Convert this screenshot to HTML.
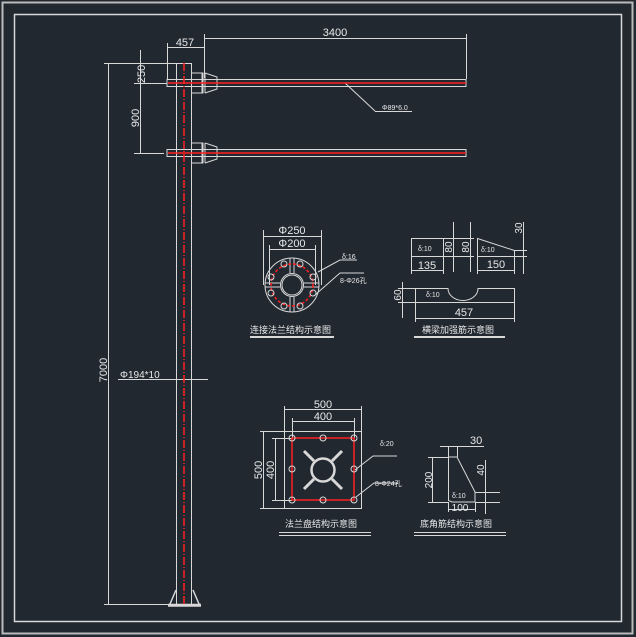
<!DOCTYPE html>
<html><head><style>body{margin:0;background:#212830}svg{display:block}text{font-family:"Liberation Sans","Noto Sans CJK SC",sans-serif;fill:#e8e8e8}</style></head><body>
<svg width="636" height="637" viewBox="0 0 636 637" xmlns="http://www.w3.org/2000/svg">
<rect width="636" height="637" fill="#212830"/>
<g fill="none" stroke="#d8d8d8" stroke-width="1">
<rect x="2.5" y="2.5" width="630" height="631" stroke="#bbb" stroke-width="2"/>
<rect x="14.5" y="14.5" width="607" height="607" stroke-width="1.5"/>
<!-- pole -->
<line x1="176.5" y1="63" x2="176.5" y2="604"/><line x1="191.5" y1="63" x2="191.5" y2="604"/>
<line x1="176" y1="63.5" x2="192" y2="63.5"/>
<line x1="104" y1="63.5" x2="176" y2="63.5"/>
<line x1="104" y1="604.5" x2="168" y2="604.5"/>
<line x1="108.5" y1="63" x2="108.5" y2="604"/>
<path d="M168 606h33M168 604.5h33M170 604l6-14M199 604l-6-14" stroke-width="1.5"/>
<!-- arms -->
<rect x="167" y="79.5" width="299" height="7"/>
<rect x="167" y="149.5" width="299" height="7"/>
<path d="M192 73h11v20h-11M202 73v20M205 73v20M205 73l12 4v12l-12 4"/>
<path d="M192 143h11v20h-11M202 143v20M205 143v20M205 143l12 4v12l-12 4"/>
<!-- dims top -->
<line x1="204" y1="38.5" x2="466" y2="38.5"/><line x1="204.5" y1="34" x2="204.5" y2="78"/><line x1="466.5" y1="34" x2="466.5" y2="79"/>
<line x1="167" y1="47.5" x2="204" y2="47.5"/><line x1="167.5" y1="43" x2="167.5" y2="79"/>
<line x1="140.5" y1="50" x2="140.5" y2="98"/><line x1="140.5" y1="86" x2="140.5" y2="153"/>
<line x1="134" y1="83.5" x2="167" y2="83.5"/><line x1="134" y1="153.5" x2="164" y2="153.5"/>
<line x1="345" y1="83" x2="375" y2="111"/><line x1="375" y1="111.5" x2="412" y2="111.5"/>
<line x1="118" y1="379.5" x2="208" y2="379.5"/>
<!-- connection flange -->
<circle cx="292" cy="285" r="27"/>
<circle cx="292" cy="285" r="10"/><circle cx="292" cy="285" r="11.5"/>
<path d="M290 258v15M294 258v15M290 297v15M294 297v15M265 283h15M265 287h15M304 283h15M304 287h15"/>
<line x1="263.5" y1="230" x2="263.5" y2="285"/><line x1="321.5" y1="230" x2="321.5" y2="285"/>
<line x1="263" y1="236.5" x2="321" y2="236.5"/>
<line x1="269.5" y1="245" x2="269.5" y2="285"/><line x1="315.5" y1="245" x2="315.5" y2="285"/>
<line x1="269" y1="249.5" x2="315" y2="249.5"/>
<path d="M318 272l22-12h17M315 295l25-22h24"/>
<line x1="250" y1="337" x2="334" y2="337" stroke-width="2"/>
<!-- ribs -->
<rect x="411.5" y="238.5" width="32" height="18"/>
<path d="M477.5 238.5L514.5 250.5V256.5H477.5Z"/><path d="M514 250.5h13M514 256.5h13"/>
<path d="M411.5 256v18M443.5 256v18M411 270.5h32M477.5 256v18M514.5 256v18M477 270.5h37"/>
<path d="M453.5 222v50M470.5 222v50M444 238.5h30M444 256.5h30M523.5 222v52"/>
<path d="M415.5 288.5H448A15 12 0 0 0 478 288.5H514.5V302.5H415.5Z"/>
<path d="M402.5 282v36M398 288.5h17M398 302.5h17M415.5 302v20M514.5 302v20M415 318.5h100"/>
<line x1="414" y1="337" x2="505" y2="337" stroke-width="2"/>
<!-- base plate -->
<rect x="284.5" y="431.5" width="77" height="77"/>
<circle cx="323" cy="470" r="11.5" stroke-width="2.5"/>
<path d="M314 461l-10-10M332 461l10-10M314 479l-10 10M332 479l10 10" stroke-width="3"/>
<path d="M284.5 406v25M361.5 406v25M284 409.5h77M292.5 418v20M354.5 418v20M292 421.5h62"/>
<path d="M260 431.5h24M260 508.5h24M263.5 431v77M272 438.5h20M272 500.5h20M275.5 438v62"/>
<path d="M355 470l18-14h24M356 497l18-14h24"/>
<path d="M279 532.5h92M279 535.5h92"/>
<!-- corner rib -->
<path d="M448.5 457V500.5L452 502H475V492L457 457H448.5"/>
<path d="M428 457.5h20M428 502.5h20M432.5 457v45M448.5 446v11M457.5 446v11M440 446.5h44M485.5 460v54M475 492.5h25M475 502.5h25M448.5 502v10M475.5 502v10M448 509.5h28"/>
<path d="M414 532.5h92M414 535.5h92"/>
</g>
<g stroke="#ff2020" stroke-width="1.5" fill="none">
<line x1="184" y1="63" x2="184" y2="604" stroke-dasharray="8 2 1 2"/>
<line x1="168" y1="83" x2="466" y2="83"/><line x1="168" y1="153" x2="466" y2="153"/>
<circle cx="292" cy="285" r="21" stroke-dasharray="3 2"/>
<rect x="292" y="438" width="62" height="62"/>
</g>
<g fill="#d8d8d8" stroke="none">
<g fill="none" stroke="#d8d8d8">
<circle cx="284" cy="264" r="3"/><circle cx="300" cy="264" r="3"/><circle cx="313" cy="277" r="3"/><circle cx="313" cy="293" r="3"/><circle cx="300" cy="306" r="3"/><circle cx="284" cy="306" r="3"/><circle cx="271" cy="293" r="3"/><circle cx="271" cy="277" r="3"/>
<circle cx="292" cy="438" r="3"/><circle cx="323" cy="438" r="3"/><circle cx="354" cy="438" r="3"/><circle cx="292" cy="469" r="3"/><circle cx="354" cy="469" r="3"/><circle cx="292" cy="500" r="3"/><circle cx="323" cy="500" r="3"/><circle cx="354" cy="500" r="3"/>
</g>
</g>
<g font-size="11">
<text x="335" y="36" text-anchor="middle">3400</text>
<text x="185" y="46" text-anchor="middle">457</text>
<text transform="translate(145,74) rotate(-90)" text-anchor="middle">250</text>
<text transform="translate(139,118) rotate(-90)" text-anchor="middle">900</text>
<text transform="translate(107,370) rotate(-90)" text-anchor="middle">7000</text>
<text x="120" y="378" font-size="10">Φ194*10</text>
<text x="382" y="110" font-size="7">Φ89*6.0</text>
<text x="292" y="234" text-anchor="middle">Φ250</text>
<text x="292" y="247" text-anchor="middle">Φ200</text>
<text x="342" y="259" font-size="7">δ:16</text>
<text x="340" y="283" font-size="7">8-Φ26孔</text>
<text x="250" y="333" font-size="9">连接法兰结构示意图</text>
<text x="418" y="251" font-size="7">δ:10</text>
<text x="481" y="252" font-size="7">δ:10</text>
<text x="427" y="269" text-anchor="middle">135</text>
<text x="496" y="268" text-anchor="middle">150</text>
<text transform="translate(452,247) rotate(-90)" text-anchor="middle" font-size="10">80</text>
<text transform="translate(469,247) rotate(-90)" text-anchor="middle" font-size="10">80</text>
<text transform="translate(522,228) rotate(-90)" text-anchor="middle" font-size="10">30</text>
<text transform="translate(401,295) rotate(-90)" text-anchor="middle" font-size="10">60</text>
<text x="426" y="297" font-size="7">δ:10</text>
<text x="464" y="316" text-anchor="middle">457</text>
<text x="422" y="333" font-size="9">横梁加强筋示意图</text>
<text x="323" y="408" text-anchor="middle">500</text>
<text x="323" y="420" text-anchor="middle">400</text>
<text transform="translate(262,470) rotate(-90)" text-anchor="middle">500</text>
<text transform="translate(274,470) rotate(-90)" text-anchor="middle">400</text>
<text x="380" y="446" font-size="7">δ:20</text>
<text x="375" y="486" font-size="7">8-Φ24孔</text>
<text x="285" y="527" font-size="9">法兰盘结构示意图</text>
<text x="470" y="444">30</text>
<text transform="translate(432,480) rotate(-90)" text-anchor="middle" font-size="10">200</text>
<text transform="translate(484,470) rotate(-90)" text-anchor="middle" font-size="10">40</text>
<text x="452" y="498" font-size="7">δ:10</text>
<text x="460" y="511" text-anchor="middle" font-size="10">100</text>
<text x="420" y="527" font-size="9">底角筋结构示意图</text>
</g>
</svg>
</body></html>
